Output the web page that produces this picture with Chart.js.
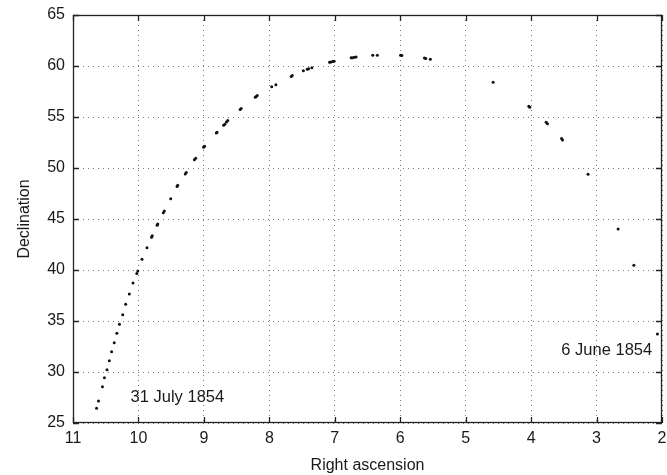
<!DOCTYPE html>
<html>
<head>
<meta charset="utf-8">
<script src="https://cdn.jsdelivr.net/npm/chart.js@4"></script>
<style>
  html, body { margin: 0; padding: 0; background: #fff; }
  #wrap { width: 667px; height: 475px; }
</style>
</head>
<body>
<div id="wrap"><canvas id="orbitChart" width="667" height="475"></canvas></div>
<script>
// Right ascension (hours) and declination (degrees) of the observed positions
const rightAscension = [
    10.64, 10.61, 10.55, 10.52, 10.48, 10.445, 10.41, 10.37, 10.33, 10.29,
    10.24, 10.195, 10.14, 10.083, 10.025, 10.01, 9.946, 9.87, 9.80, 9.79,
    9.715, 9.705, 9.62, 9.605, 9.507, 9.41, 9.40, 9.285, 9.27, 9.145,
    9.125, 9.005, 8.99, 8.81, 8.80, 8.70, 8.68, 8.655, 8.635, 8.445,
    8.43, 8.215, 8.20, 8.185, 7.964, 7.90, 7.665, 7.65, 7.48, 7.42,
    7.40, 7.35, 7.08, 7.06, 7.03, 7.01, 6.75, 6.73, 6.70, 6.675,
    6.42, 6.35, 5.995, 5.975, 5.63, 5.61, 5.54, 4.58, 4.035, 4.02,
    3.77, 3.75, 3.535, 3.52, 3.13, 2.67, 2.43, 2.07
];
const declination = [
    26.44, 27.16, 28.56, 29.44, 30.23, 31.11, 31.99, 32.87, 33.79, 34.68,
    35.62, 36.64, 37.65, 38.73, 39.65, 39.90, 41.05, 42.19, 43.20, 43.35,
    44.38, 44.52, 45.62, 45.78, 46.99, 48.18, 48.30, 49.40, 49.56, 50.80,
    50.95, 52.03, 52.14, 53.42, 53.50, 54.18, 54.30, 54.50, 54.66, 55.73,
    55.83, 56.93, 57.02, 57.10, 57.97, 58.17, 58.98, 59.06, 59.54, 59.68,
    59.72, 59.83, 60.36, 60.40, 60.44, 60.46, 60.80, 60.82, 60.85, 60.88,
    61.05, 61.05, 61.05, 61.04, 60.78, 60.74, 60.66, 58.40, 56.06, 55.96,
    54.48, 54.33, 52.90, 52.74, 49.38, 44.02, 40.46, 33.73
];
const xTicks = [11, 10, 9, 8, 7, 6, 5, 4, 3, 2];
const yTicks = [25, 30, 35, 40, 45, 50, 55, 60, 65];
const annotations = [
    { text: '31 July 1854', ra: 10.12, dec: 27.55, align: 'left' },
    { text: '6 June 1854', ra: 2.15, dec: 32.16, align: 'right' }
];

const points = rightAscension.map((ra, i) => ({ x: ra, y: declination[i] }));
const FONT = '"Liberation Sans", Arial, Helvetica, sans-serif';

// Box around the plot, inward tick marks, and the date labels
const frameAndLabels = {
    id: 'frameAndLabels',
    afterDraw(chart) {
        const { ctx, chartArea: a, scales: { x, y } } = chart;
        ctx.save();
        ctx.strokeStyle = '#222';
        ctx.lineWidth = 1.3;
        ctx.strokeRect(a.left + 0.5, a.top + 0.5, a.right - a.left - 1, a.bottom - a.top - 1);
        ctx.beginPath();
        xTicks.forEach(v => {
            const px = Math.round(x.getPixelForValue(v)) + 0.5;
            ctx.moveTo(px, a.bottom); ctx.lineTo(px, a.bottom - 6);
            ctx.moveTo(px, a.top); ctx.lineTo(px, a.top + 6);
        });
        yTicks.forEach(v => {
            const py = Math.round(y.getPixelForValue(v)) + 0.5;
            ctx.moveTo(a.left, py); ctx.lineTo(a.left + 6, py);
            ctx.moveTo(a.right, py); ctx.lineTo(a.right - 6, py);
        });
        ctx.stroke();

        ctx.fillStyle = '#1a1a1a';
        ctx.font = '16.5px ' + FONT;
        ctx.textBaseline = 'middle';
        annotations.forEach(n => {
            ctx.textAlign = n.align;
            ctx.fillText(n.text, x.getPixelForValue(n.ra), y.getPixelForValue(n.dec));
        });
        ctx.restore();
    }
};

new Chart(document.getElementById('orbitChart'), {
    type: 'scatter',
    data: {
        datasets: [{
            data: points,
            pointRadius: 1.5,
            pointHoverRadius: 1.5,
            pointBackgroundColor: '#111',
            pointBorderWidth: 0
        }]
    },
    options: {
        responsive: false,
        animation: false,
        layout: { padding: { left: 0, right: 5, top: 15, bottom: 0 } },
        plugins: { legend: { display: false }, tooltip: { enabled: false } },
        scales: {
            x: {
                type: 'linear',
                reverse: true,
                min: 2,
                max: 11,
                afterBuildTicks: s => { s.ticks = xTicks.map(v => ({ value: v })); },
                afterFit: s => { s.height = 52; s.paddingLeft = 0; s.paddingRight = 0; },
                ticks: { color: '#1a1a1a', font: { family: FONT, size: 16 }, padding: 6 },
                grid: { color: '#777', drawTicks: false, lineWidth: 1 },
                border: { display: false, dash: [1, 4] },
                title: {
                    display: true,
                    text: 'Right ascension',
                    color: '#1a1a1a',
                    font: { family: FONT, size: 16 },
                    padding: { top: 0, bottom: 0 }
                }
            },
            y: {
                type: 'linear',
                min: 25,
                max: 65,
                afterBuildTicks: s => { s.ticks = yTicks.map(v => ({ value: v })); },
                afterFit: s => { s.width = 73; s.paddingTop = 0; s.paddingBottom = 0; },
                ticks: { color: '#1a1a1a', font: { family: FONT, size: 16 }, padding: 8 },
                grid: { color: '#777', drawTicks: false, lineWidth: 1 },
                border: { display: false, dash: [1, 4] },
                title: {
                    display: true,
                    text: 'Declination',
                    color: '#1a1a1a',
                    font: { family: FONT, size: 16 },
                    padding: { top: 15, bottom: 0 }
                }
            }
        }
    },
    plugins: [frameAndLabels]
});
</script>
</body>
</html>
